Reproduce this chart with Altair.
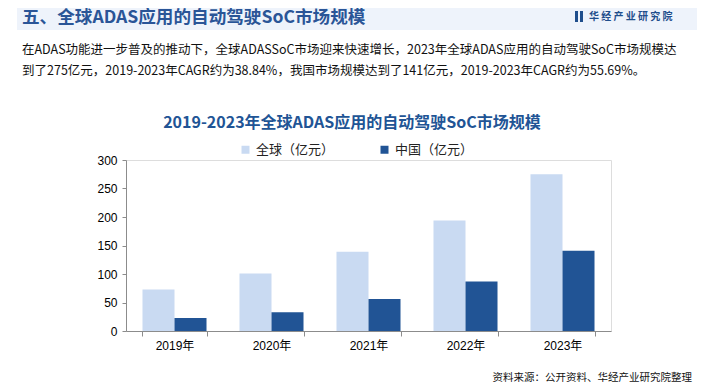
import altair as alt
import pandas as pd

years = ["2019年", "2020年", "2021年", "2022年", "2023年"]
series_names = ["全球（亿元）", "中国（亿元）"]
global_vals = [73, 101, 139, 194, 275]
china_vals = [23, 33, 56, 87, 141]
colors = ["#c9daf2", "#215495"]

header = "五、全球ADAS应用的自动驾驶SoC市场规模"
para1 = "在ADAS功能进一步普及的推动下，全球ADASSoC市场迎来快速增长，2023年全球ADAS应用的自动驾驶SoC市场规模达"
para2 = "到了275亿元，2019-2023年CAGR约为38.84%，我国市场规模达到了141亿元，2019-2023年CAGR约为55.69%。"
chart_title = "2019-2023年全球ADAS应用的自动驾驶SoC市场规模"
logo_text = "华 经 产 业 研 究 院"
source_text = "资料来源：公开资料、华经产业研究院整理"

rows = []
for i, y in enumerate(years):
    rows.append({"year": y, "series": series_names[0], "value": global_vals[i]})
    rows.append({"year": y, "series": series_names[1], "value": china_vals[i]})
df = pd.DataFrame(rows)

FONT = "Liberation Sans, Noto Sans CJK SC"
CJK = "Noto Sans CJK SC"

# page -> plot coordinates: x = pageX - 126, y = pageY - 160
bars = alt.Chart(df).mark_bar().encode(
    x=alt.X("year:N", sort=years, title=None,
            scale=alt.Scale(paddingInner=0.34, paddingOuter=0.17),
            axis=alt.Axis(labelAngle=0, labelFont=FONT, labelFontSize=12, labelColor="#000000",
                          domainColor="#8c8c8c", tickColor="#8c8c8c", tickSize=5,
                          tickBand="extent", labelPadding=4)),
    xOffset=alt.XOffset("series:N", sort=series_names,
                        scale=alt.Scale(domain=series_names, paddingInner=0, paddingOuter=0)),
    y=alt.Y("value:Q", title=None,
            scale=alt.Scale(domain=[0, 300], nice=False),
            axis=alt.Axis(values=[0, 50, 100, 150, 200, 250, 300], grid=False,
                          labelFont="Liberation Sans", labelFontSize=12, labelColor="#000000",
                          domainColor="#8c8c8c", tickColor="#8c8c8c", tickSize=4, labelPadding=5)),
    color=alt.Color("series:N", sort=series_names,
                    scale=alt.Scale(domain=series_names, range=colors),
                    legend=alt.Legend(title=None, orient="none", direction="horizontal",
                                      legendX=113, legendY=-17, symbolType="square",
                                      symbolSize=64, symbolStrokeWidth=0,
                                      labelFont=CJK, labelFontSize=13, labelColor="#222222",
                                      columnPadding=43, symbolOffset=0, labelOffset=4)),
)

def txt(text, x, y, size, color="#000000", weight="normal", align="left", font=CJK, baseline="middle"):
    return alt.Chart(pd.DataFrame({"t": [text]})).mark_text(
        align=align, baseline=baseline, fontSize=size, fontWeight=weight,
        color=color, font=font, clip=False
    ).encode(text="t:N", x=alt.value(x), y=alt.value(y))

def rect(x1, x2, y1, y2, color):
    return alt.Chart(pd.DataFrame({"a": [0]})).mark_rect(color=color, clip=False).encode(
        x=alt.value(x1), x2=alt.value(x2), y=alt.value(y1), y2=alt.value(y2))

bg = rect(17 - 126, 704 - 126, 5 - 160, 30 - 160, "#eef3fb")
icon1 = rect(575 - 126, 578 - 126, 11 - 160, 22 - 160, "#1f4e8c")
icon2 = rect(580 - 126, 583 - 126, 11 - 160, 22 - 160, "#1f4e8c")

layers = [
    bg, icon1, icon2,
    txt(header, 22 - 126, 18 - 160, 17.6, "#2a5597", "bold"),
    txt(logo_text, 589 - 126, 17 - 160, 10, "#1f4e8c", "bold"),
    txt(para1, 22 - 126, 50 - 160, 12.5, "#111111"),
    txt(para2, 22 - 126, 71 - 160, 12.5, "#111111"),
    txt(chart_title, 352 - 126, 123 - 160, 16, "#215495", "bold", align="center"),
    txt(source_text, 692 - 126, 383 - 160, 10.5, "#111111", align="right", baseline="bottom"),
    bars,
]

chart = alt.layer(*layers).properties(
    width=485, height=171,
    autosize=alt.AutoSizeParams(type="none"),
    padding={"left": 118, "top": 152, "right": 86, "bottom": 53},
).configure_view(stroke=None).configure(background="#ffffff")

chart.save("out.html", embed_options={"renderer": "svg", "actions": False})
